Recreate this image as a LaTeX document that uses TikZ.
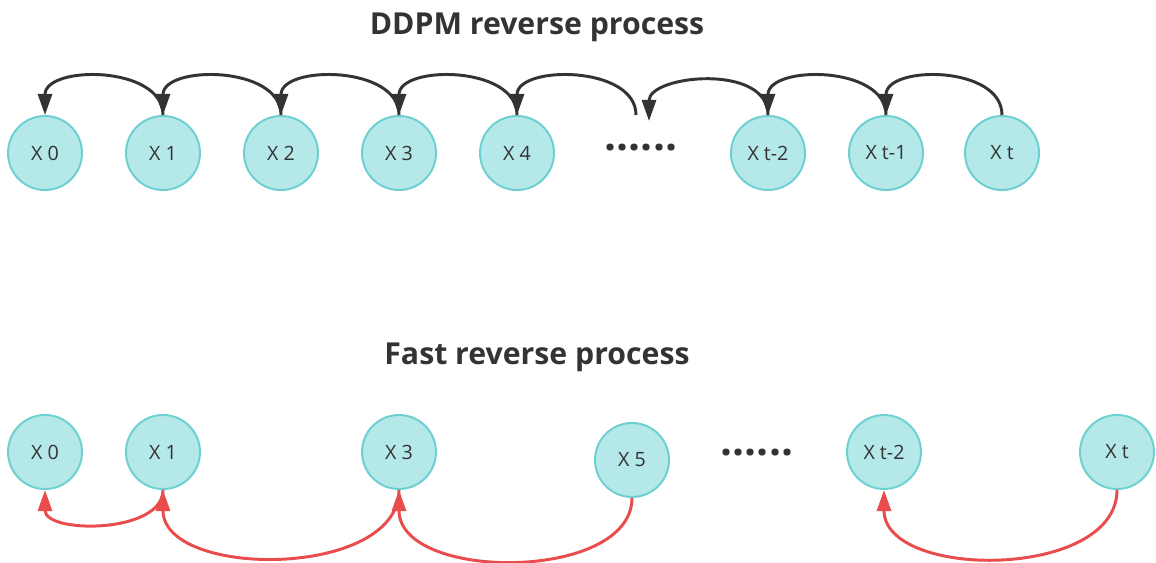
\documentclass[tikz,border=0pt]{standalone}
\usepackage{fontspec}
\setmainfont{Open Sans}
\usepackage{xcolor}
\usetikzlibrary{arrows.meta}

\definecolor{nodefill}{HTML}{B5E9E9}
\definecolor{nodeline}{HTML}{6DCFD1}
\definecolor{arcgray}{HTML}{333333}
\definecolor{arcred}{HTML}{E84C4C}

\begin{document}
\begin{tikzpicture}[x=0.025cm,y=-0.025cm,
  xn/.style={circle,draw=nodeline,fill=nodefill,line width=1.4pt,minimum size=1.85cm,inner sep=0pt,font=\fontsize{14}{16}\selectfont,text=arcgray},
  ttl/.style={font=\fontsize{21.5}{25}\selectfont\bfseries,text=arcgray},
  dots/.style={font=\fontsize{30}{32}\selectfont\bfseries,text=arcgray},
  back/.style={draw=arcgray,line width=2.1pt,-{Triangle[length=15pt,width=10pt]}},
  fast/.style={draw=arcred,line width=2.1pt,-{Triangle[length=15pt,width=10pt]}}]
				\useasboundingbox (0,0) rectangle (1156,563);

				% DDPM reverse process
				\node[ttl] (titleddpm) at (537,27) {DDPM reverse process};
				\node[xn] (d0) at (45,153) {X 0};
				\node[xn] (d1) at (163,153) {X 1};
				\node[xn] (d2) at (281,153) {X 2};
				\node[xn] (d3) at (399,153) {X 3};
				\node[xn] (d4) at (517,153) {X 4};
				\node[dots] (ddots) at (641,148) {......};
				\node[xn] (dt2) at (768,153) {X t-2};
				\node[xn] (dt1) at (886,153) {X t-1};
				\node[xn] (dt) at (1002,153) {X t};
				\coordinate (gapl) at (636,115);
				\coordinate (gapr) at (649,121);
				\draw[back] (d1.north) .. controls +(0,-50) and +(0,-50) .. (d0.north);
				\draw[back] (d2.north) .. controls +(0,-50) and +(0,-50) .. (d1.north);
				\draw[back] (d3.north) .. controls +(0,-50) and +(0,-50) .. (d2.north);
				\draw[back] (d4.north) .. controls +(0,-50) and +(0,-50) .. (d3.north);
				\draw[back] (gapl) .. controls +(0,-50) and +(0,-50) .. (d4.north);
				\draw[back] (dt2.north) .. controls +(0,-52) and +(0,-46) .. (gapr);
				\draw[back] (dt1.north) .. controls +(0,-50) and +(0,-50) .. (dt2.north);
				\draw[back] (dt.north) .. controls +(0,-50) and +(0,-50) .. (dt1.north);

				% Fast reverse process
				\node[ttl] (titlefast) at (537,357) {Fast reverse process};
				\node[xn] (f0) at (45,452) {X 0};
				\node[xn] (f1) at (163,452) {X 1};
				\node[xn] (f3) at (399,452) {X 3};
				\node[xn] (f5) at (632,460) {X 5};
				\node[dots] (fdots) at (757,453) {......};
				\node[xn] (ft2) at (884,452) {X t-2};
				\node[xn] (ft) at (1117,452) {X t};
				\draw[fast] (f1.south) .. controls +(0,44) and +(0,44) .. (f0.south);
				\draw[fast] (f3.south) .. controls +(0,89) and +(0,89) .. (f1.south);
				\draw[fast] (f5.south) .. controls +(0,84) and +(0,92) .. (f3.south);
				\draw[fast] (ft.south) .. controls +(0,90) and +(0,90) .. (ft2.south);
			\end{tikzpicture}
\end{document}
